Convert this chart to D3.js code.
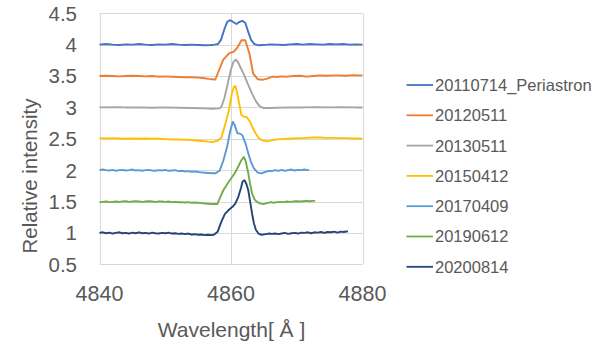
<!DOCTYPE html>
<html>
<head>
<meta charset="utf-8">
<script src="https://cdn.jsdelivr.net/npm/d3@7"></script>
<style>
  body { margin: 0; background: #fff; }
  svg { display: block; }
  text { font-family: "Liberation Sans", Arial, sans-serif; fill: #595959; }
</style>
</head>
<body>
<svg id="chart" width="609" height="346"></svg>
<script>
// series names and colours (legend order)
const seriesNames = ['20110714_Periastron', '20120511', '20130511', '20150412', '20170409', '20190612', '20200814'];
const seriesColors = ['#4472C4', '#ED7D31', '#A5A5A5', '#FFC000', '#5B9BD5', '#70AD47', '#264478'];

// axis ticks
const xTicks = [4840, 4860, 4880];
const yTicks = [0.5, 1, 1.5, 2, 2.5, 3, 3.5, 4, 4.5];

// spectra: [wavelength, relative intensity]
const s20110714 = [[4840,4.00],[4841,4.01],[4842,4.00],[4843,3.995],[4844,4.005],[4845,4.00],[4846,4.01],[4847,4.00],[4848,3.995],[4849,4.005],[4850,4.00],[4851,4.01],[4852,4.00],[4853,3.995],[4854,4.00],[4855,3.995],[4856,3.99],[4857,3.995],[4857.5,4.00],[4858.03,4.01],[4858.49,4.08],[4859.0,4.25],[4859.41,4.36],[4859.81,4.39],[4860.21,4.37],[4860.84,4.33],[4861.25,4.36],[4861.71,4.38],[4862.17,4.35],[4862.57,4.22],[4863.03,4.08],[4863.55,4.01],[4864.24,3.99],[4864.8,3.995],[4865.5,4.00],[4866,4.005],[4867,4.00],[4868,3.995],[4869,4.005],[4870,4.01],[4871,4.00],[4872,4.01],[4873,4.005],[4874,4.00],[4875,4.01],[4876,4.005],[4877,4.01],[4878,4.00],[4879,4.005],[4880,4.00]];
const s20120511 = [[4840,3.50],[4841,3.505],[4842,3.50],[4843,3.495],[4844,3.50],[4845,3.505],[4846,3.50],[4847,3.495],[4848,3.50],[4849,3.49],[4850,3.495],[4851,3.49],[4852,3.485],[4853,3.48],[4854,3.48],[4855,3.475],[4856,3.465],[4856.6,3.455],[4857.1,3.45],[4857.62,3.445],[4858.2,3.60],[4858.83,3.76],[4859.69,3.86],[4860.44,3.89],[4861.07,3.97],[4861.59,4.07],[4862.17,4.07],[4862.8,3.86],[4863.37,3.54],[4864.06,3.45],[4864.75,3.44],[4865.5,3.46],[4866.3,3.49],[4867,3.485],[4867.5,3.495],[4868.5,3.49],[4869.5,3.50],[4870.5,3.505],[4871.5,3.49],[4872.5,3.50],[4873.5,3.51],[4874.5,3.505],[4875.5,3.51],[4876.5,3.51],[4877.5,3.505],[4878.5,3.515],[4879.5,3.51],[4880,3.51]];
const s20130511 = [[4840,3.00],[4842,3.005],[4844,3.00],[4846,3.00],[4848,2.995],[4850,3.00],[4852,2.995],[4854,2.99],[4856,2.985],[4857.2,2.98],[4858.26,2.985],[4858.54,3.01],[4859.0,3.15],[4859.4,3.33],[4859.98,3.60],[4860.38,3.73],[4860.73,3.76],[4861.07,3.72],[4861.53,3.62],[4861.99,3.52],[4862.57,3.37],[4863.2,3.22],[4863.78,3.10],[4864.35,3.02],[4864.93,2.99],[4866.08,2.99],[4867,2.995],[4869,3.00],[4871,3.00],[4873,3.005],[4875,3.00],[4877,3.005],[4879,3.00],[4880,3.00]];
const s20150412 = [[4840,2.51],[4841,2.505],[4842,2.51],[4843,2.505],[4844,2.50],[4845,2.505],[4846,2.50],[4847,2.505],[4848,2.50],[4849,2.50],[4850,2.495],[4851,2.49],[4852,2.49],[4853,2.485],[4854,2.48],[4855,2.47],[4856,2.46],[4856.5,2.455],[4857.34,2.45],[4857.97,2.47],[4858.54,2.52],[4859.18,2.75],[4859.69,2.96],[4860.15,3.23],[4860.44,3.33],[4860.67,3.34],[4860.9,3.25],[4861.13,3.12],[4861.59,2.88],[4861.99,2.85],[4862.34,2.85],[4862.86,2.78],[4863.26,2.68],[4863.78,2.58],[4864.24,2.51],[4864.64,2.48],[4865.5,2.46],[4866.3,2.48],[4867,2.49],[4867.5,2.495],[4868.5,2.50],[4869.5,2.505],[4870.5,2.51],[4871.5,2.515],[4872.5,2.52],[4873.5,2.52],[4874.5,2.515],[4875.5,2.515],[4876.5,2.51],[4877.5,2.51],[4878.5,2.505],[4879.5,2.505],[4880,2.50]];
const s20170409 = [[4840,2.00],[4840.5,2.01],[4841,2.00],[4841.5,1.995],[4842,2.005],[4842.5,1.99],[4843,2.00],[4843.5,2.005],[4844,1.995],[4844.5,2.00],[4845,2.01],[4845.5,1.995],[4846,2.00],[4846.5,1.99],[4847,2.00],[4847.5,2.005],[4848,1.995],[4848.5,1.99],[4849,2.00],[4849.5,1.995],[4850,2.005],[4850.5,1.99],[4851,1.995],[4851.5,2.00],[4852,1.985],[4852.5,1.99],[4853,1.98],[4853.5,1.985],[4854,1.975],[4854.5,1.98],[4855,1.97],[4855.5,1.965],[4856,1.96],[4856.6,1.955],[4857.1,1.95],[4857.62,1.95],[4858.26,1.99],[4858.83,2.15],[4859.4,2.37],[4859.87,2.62],[4860.27,2.77],[4860.56,2.72],[4860.96,2.59],[4861.36,2.58],[4861.71,2.56],[4862.17,2.44],[4862.63,2.27],[4863.03,2.13],[4863.49,2.03],[4864.06,1.96],[4864.64,1.95],[4865.27,1.975],[4865.85,1.99],[4866.2,1.985],[4866.7,2.00],[4867.2,1.99],[4867.7,2.005],[4868.2,1.99],[4868.7,2.00],[4869.2,2.01],[4869.7,1.995],[4870.2,2.005],[4870.7,2.00],[4871.2,2.01],[4871.6,2.00],[4871.9,2.005]];
const s20190612 = [[4840,1.49],[4840.5,1.495],[4841,1.50],[4841.5,1.49],[4842,1.495],[4842.5,1.50],[4843,1.495],[4843.5,1.50],[4844,1.505],[4844.5,1.495],[4845,1.50],[4845.5,1.505],[4846,1.50],[4846.5,1.495],[4847,1.50],[4847.5,1.505],[4848,1.50],[4848.5,1.495],[4849,1.50],[4849.5,1.50],[4850,1.495],[4850.5,1.50],[4851,1.49],[4851.5,1.495],[4852,1.49],[4852.5,1.49],[4853,1.485],[4853.5,1.49],[4854,1.48],[4854.5,1.485],[4855,1.48],[4855.5,1.475],[4856,1.47],[4856.6,1.465],[4857.1,1.46],[4857.91,1.46],[4858.37,1.57],[4858.83,1.68],[4859.69,1.82],[4860.56,1.95],[4861.07,2.05],[4861.53,2.15],[4861.94,2.21],[4862.22,2.15],[4862.63,1.95],[4862.91,1.78],[4863.2,1.63],[4863.55,1.54],[4863.89,1.50],[4864.41,1.47],[4864.93,1.46],[4865.62,1.48],[4866,1.49],[4866.5,1.48],[4867,1.49],[4867.5,1.495],[4868,1.49],[4868.5,1.50],[4869,1.495],[4869.5,1.50],[4870,1.505],[4870.5,1.50],[4871,1.505],[4871.5,1.51],[4872,1.505],[4872.5,1.51],[4872.8,1.51]];
const s20200814 = [[4840,1.00],[4840.5,1.01],[4841,0.995],[4841.5,1.005],[4842,0.99],[4842.5,1.00],[4843,1.01],[4843.5,0.995],[4844,1.00],[4844.5,0.99],[4845,1.005],[4845.5,0.995],[4846,1.01],[4846.5,0.995],[4847,1.00],[4847.5,0.99],[4848,1.005],[4848.5,0.995],[4849,0.99],[4849.5,1.00],[4850,0.995],[4850.5,1.005],[4851,0.99],[4851.5,0.995],[4852,0.985],[4852.5,0.99],[4853,0.98],[4853.5,0.99],[4854,0.975],[4854.5,0.98],[4855,0.97],[4855.5,0.975],[4856,0.965],[4856.5,0.97],[4857,0.965],[4857.39,0.97],[4857.97,1.02],[4858.54,1.18],[4859.06,1.30],[4859.69,1.37],[4860.27,1.42],[4860.67,1.47],[4861.13,1.58],[4861.53,1.72],[4861.76,1.82],[4862.05,1.84],[4862.34,1.78],[4862.63,1.68],[4862.91,1.50],[4863.2,1.31],[4863.49,1.15],[4863.78,1.05],[4864.18,0.99],[4864.64,0.97],[4865.27,0.98],[4865.85,0.99],[4866.2,0.985],[4866.7,0.99],[4867.2,0.98],[4867.7,0.99],[4868.2,1.00],[4868.7,0.985],[4869.2,0.995],[4869.7,1.00],[4870.2,0.99],[4870.7,1.005],[4871.2,1.00],[4871.7,1.01],[4872.2,0.995],[4872.7,1.01],[4873.2,1.005],[4873.7,1.015],[4874.2,1.00],[4874.7,1.015],[4875.2,1.01],[4875.7,1.02],[4876.2,1.005],[4876.7,1.02],[4877.2,1.015],[4877.5,1.025],[4877.8,1.02]];

const seriesData = [s20110714, s20120511, s20130511, s20150412, s20170409, s20190612, s20200814];

const svg = d3.select('#chart');
const plot = { left: 99.5, right: 362.5, top: 13.3, bottom: 264.3 };

const x = d3.scaleLinear().domain([4840, 4880]).range([plot.left, plot.right]);
const y = d3.scaleLinear().domain([0.5, 4.5]).range([plot.bottom, plot.top]);

// gridlines
const grid = svg.append('g');
grid.selectAll('.hgrid').data(yTicks).enter().append('line')
  .attr('x1', plot.left).attr('x2', plot.right)
  .attr('y1', d => Math.round(y(d)) + 0.5).attr('y2', d => Math.round(y(d)) + 0.5)
  .attr('stroke', '#d9d9d9').attr('stroke-width', 1);
grid.selectAll('.vgrid').data(xTicks).enter().append('line')
  .attr('x1', d => Math.round(x(d)) + 0.5).attr('x2', d => Math.round(x(d)) + 0.5)
  .attr('y1', plot.top).attr('y2', plot.bottom)
  .attr('stroke', '#d9d9d9').attr('stroke-width', 1);

// tick labels
svg.append('g').selectAll('text').data(yTicks).enter().append('text')
  .attr('x', 77).attr('y', d => y(d))
  .attr('dy', '0.36em')
  .attr('text-anchor', 'end')
  .attr('font-size', '20.5px')
  .text(d => d);
svg.append('g').selectAll('text').data(xTicks).enter().append('text')
  .attr('x', d => x(d)).attr('y', 293)
  .attr('dy', '0.36em')
  .attr('text-anchor', 'middle')
  .attr('font-size', '21.5px')
  .text(d => d);

// axis titles
svg.append('text')
  .attr('transform', 'translate(30,176) rotate(-90)')
  .attr('dy', '0.36em')
  .attr('text-anchor', 'middle')
  .attr('font-size', '20.5px')
  .text('Relative intensity');
svg.append('text')
  .attr('x', 231.5).attr('y', 329.5)
  .attr('dy', '0.36em')
  .attr('text-anchor', 'middle')
  .attr('font-size', '21px')
  .text('Wavelength[ Å ]');

// spectra
const line = d3.line().x(d => x(d[0])).y(d => y(d[1]));
svg.append('g').selectAll('path').data(seriesData).enter().append('path')
  .attr('d', line)
  .attr('fill', 'none')
  .attr('stroke', (d, i) => seriesColors[i])
  .attr('stroke-width', 1.9)
  .attr('stroke-linejoin', 'round');

// legend
const legend = svg.append('g');
const rows = legend.selectAll('g').data(seriesNames).enter().append('g')
  .attr('transform', (d, i) => `translate(0,${85 + i * 30.3})`);
rows.append('line')
  .attr('x1', 406.5).attr('x2', 433)
  .attr('stroke', (d, i) => seriesColors[i])
  .attr('stroke-width', 1.8);
rows.append('text')
  .attr('x', 435).attr('dy', '0.36em')
  .attr('font-size', '16.5px')
  .text(d => d);
</script>
</body>
</html>
